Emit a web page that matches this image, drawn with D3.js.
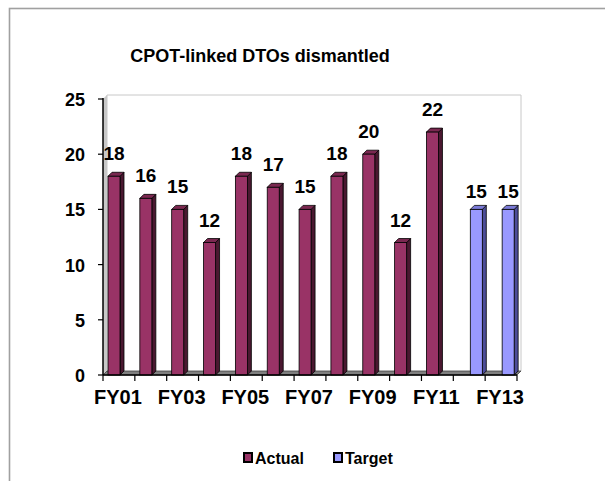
<!DOCTYPE html>
<meta charset="utf-8">
<head>
    <title>CPOT-linked DTOs dismantled</title>
    <style>
        body { margin: 0; background: #fff; }
        text { font-family: "Liberation Sans", Arial, sans-serif; font-weight: bold; fill: #000; }
    </style>
</head>
<script src="https://d3js.org/d3.v7.min.js"></script>
<svg id="chart" width="605" height="481"></svg>
<script>
    // data
    const categories = ["FY01", "FY02", "FY03", "FY04", "FY05", "FY06", "FY07",
                        "FY08", "FY09", "FY10", "FY11", "FY12", "FY13"];
    const actual = [18, 16, 15, 12, 18, 17, 15, 18, 20, 12, 22, null, null];
    const target = [null, null, null, null, null, null, null, null, null, null, null, 15, 15];
    const xTickLabels = ["FY01", "FY03", "FY05", "FY07", "FY09", "FY11", "FY13"];
    const yTicks = [0, 5, 10, 15, 20, 25];

    const series = [
        { name: "Actual", values: actual, front: "#993366", side: "#4a1830", topc: "#7a2850", labelGap: 16 },
        { name: "Target", values: target, front: "#9999ff", side: "#4d4d99", topc: "#7a7ad6", labelGap: 11 }
    ];

    const svg = d3.select("#chart");
    const depth = 4;
    const plotL = 103, plotR = 517, plotT = 99, plotB = 375;

    svg.append("rect").attr("width", 605).attr("height", 481).attr("fill", "#fff");

    // outer frame (cut off by the window on right and bottom)
    svg.append("rect")
        .attr("x", 9.5).attr("y", 8.5)
        .attr("width", 700).attr("height", 600)
        .attr("fill", "none").attr("stroke", "#a0a0a0").attr("stroke-width", 1.6);

    svg.append("text")
        .attr("x", 260).attr("y", 62)
        .attr("text-anchor", "middle")
        .style("font-size", "18px")
        .text("CPOT-linked DTOs dismantled");

    const x0 = d3.scaleBand().domain(categories).range([plotL, plotR]);
    const x1 = d3.scaleBand().domain(series.map(s => s.name)).range([5, 29]);
    const y = d3.scaleLinear().domain([0, 25]).range([plotB, plotT]);

    // walls
    svg.append("path")
        .attr("d", `M${plotL},${y(25)}L${plotL + depth},${y(25) - depth}L${plotL + depth},${plotB - depth}L${plotL},${plotB}Z`)
        .attr("fill", "#c8c8c8").attr("stroke", "none");
    svg.append("path")
        .attr("d", `M${plotL + depth},${plotB - depth}L${plotL + depth},${y(25) - depth}L${plotR + depth},${y(25) - depth}L${plotR + depth},${plotB - depth}`)
        .attr("fill", "#fff").attr("stroke", "#c8c8c8").attr("stroke-width", 1);
    // floor
    svg.append("path")
        .attr("d", `M${plotL},${plotB}L${plotL + depth},${plotB - depth}L${plotR + depth},${plotB - depth}L${plotR},${plotB}Z`)
        .attr("fill", "#808080").attr("stroke", "#404040").attr("stroke-width", 0.8);

    // bars
    series.forEach(s => {
        const g = svg.append("g");
        const pts = categories.map((c, i) => ({ c: c, v: s.values[i] })).filter(d => d.v != null);
        pts.forEach(d => {
            const bx = x0(d.c) + x1(s.name), bw = x1.bandwidth(), by = y(d.v);
            g.append("path")
                .attr("d", `M${bx + bw},${by}L${bx + bw + depth},${by - depth}L${bx + bw + depth},${plotB - depth}L${bx + bw},${plotB}Z`)
                .attr("fill", s.side).attr("stroke", "#000").attr("stroke-width", 0.8);
            g.append("path")
                .attr("d", `M${bx},${by}L${bx + depth},${by - depth}L${bx + bw + depth},${by - depth}L${bx + bw},${by}Z`)
                .attr("fill", s.topc).attr("stroke", "#000").attr("stroke-width", 0.8);
            g.append("rect")
                .attr("x", bx).attr("y", by)
                .attr("width", bw).attr("height", plotB - by)
                .attr("fill", s.front).attr("stroke", "#000").attr("stroke-width", 0.8);
            g.append("text")
                .attr("x", bx + bw / 2).attr("y", by - s.labelGap)
                .attr("text-anchor", "middle")
                .style("font-size", "19px")
                .text(d.v);
        });
    });

    // y axis
    svg.append("line")
        .attr("x1", plotL).attr("x2", plotL).attr("y1", y(25) - 1).attr("y2", plotB)
        .attr("stroke", "#000").attr("stroke-width", 1.5);
    svg.selectAll(".ytick").data(yTicks).join("line")
        .attr("x1", plotL - 5).attr("x2", plotL)
        .attr("y1", d => y(d)).attr("y2", d => y(d))
        .attr("stroke", "#000").attr("stroke-width", 1.2);
    svg.selectAll(".ylab").data(yTicks).join("text")
        .attr("x", plotL - 18).attr("y", d => y(d) + 7)
        .attr("text-anchor", "end")
        .style("font-size", "18px")
        .text(d => d);

    // x axis
    svg.append("line")
        .attr("x1", plotL).attr("x2", plotR).attr("y1", plotB).attr("y2", plotB)
        .attr("stroke", "#000").attr("stroke-width", 1.5);
    svg.selectAll(".xtick").data(categories.concat(["end"])).join("line")
        .attr("x1", (d, i) => plotL + i * x0.step()).attr("x2", (d, i) => plotL + i * x0.step())
        .attr("y1", plotB).attr("y2", plotB + 6)
        .attr("stroke", "#000").attr("stroke-width", 1.2);
    svg.selectAll(".xlab").data(xTickLabels).join("text")
        .attr("x", d => x0(d) + x0.bandwidth() / 2 - 1)
        .attr("y", 404)
        .attr("text-anchor", "middle")
        .style("font-size", "20px")
        .text(d => d);

    // legend
    const legend = svg.append("g");
    series.forEach((s, i) => {
        const lx = 243 + i * 90;
        legend.append("rect")
            .attr("x", lx + 1).attr("y", 453)
            .attr("width", 8).attr("height", 9)
            .attr("fill", s.front).attr("stroke", "#000").attr("stroke-width", 2);
        legend.append("text")
            .attr("x", lx + 12).attr("y", 464)
            .style("font-size", "16px")
            .text(s.name);
    });
</script>
